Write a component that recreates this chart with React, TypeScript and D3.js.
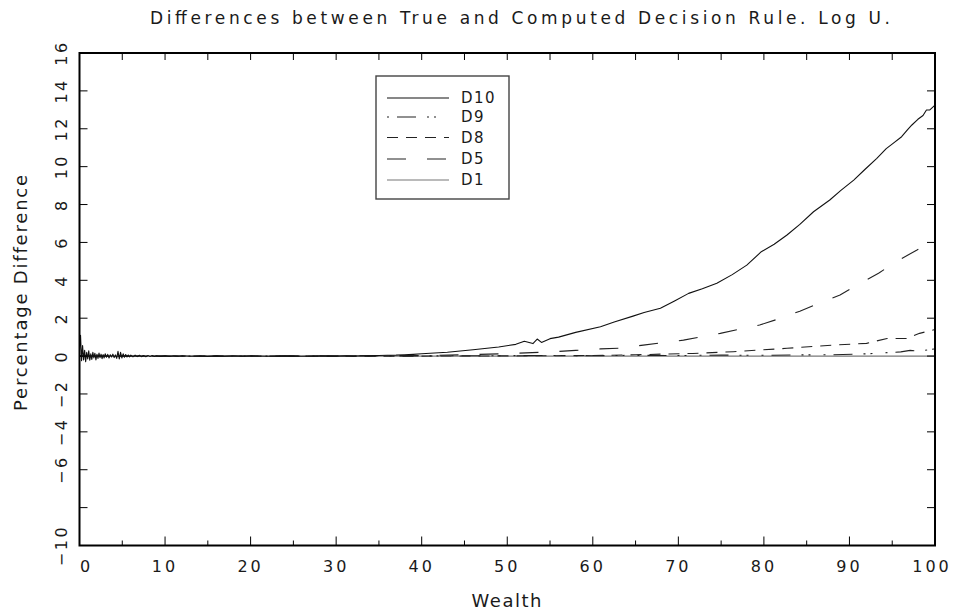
import React from "react";
import * as d3 from "d3";

// ---------- data ----------
const d10X = [0, 0.12, 0.24, 0.36, 0.48, 0.6, 0.72, 0.84, 0.96, 1.08, 1.2, 1.32, 1.44, 1.56, 1.68, 1.8, 1.92, 2.04, 2.16, 2.28, 2.4, 2.52, 2.64, 2.76, 2.88, 3.0, 3.15, 3.3, 3.45, 3.6, 3.75, 3.9, 4.05, 4.2, 4.35, 4.5, 4.65, 4.8, 4.95, 5.1, 5.25, 5.4, 5.55, 5.7, 5.85, 6.0, 6.25, 6.5, 6.75, 7.0, 7.25, 7.5, 7.75, 8.0, 8.25, 8.5, 8.75, 9.0, 9.5, 10, 10.5, 11, 11.5, 12, 13, 14, 15, 16, 17, 18, 19, 20, 22, 24, 26, 28, 30, 31, 32, 33, 34, 35, 36, 37, 38, 39, 40, 43, 46, 49, 51, 52, 53, 53.5, 54, 55, 56, 58, 60.9, 62.5, 64.7, 66, 67.9, 69.5, 71.2, 72.8, 74.5, 76.3, 78.0, 79.7, 81.2, 82.7, 84.2, 85.8, 87.7, 89.0, 90.5, 91.8, 93.2, 94.3, 95.1, 96.1, 96.8, 97.3, 98.0, 98.6, 99.0, 99.4, 100];
const d10Y = [0.3, 1.1, -0.25, 0.55, -0.2, 0.3, -0.3, 0.2, -0.15, 0.28, -0.22, 0.12, -0.18, 0.2, -0.1, 0.15, -0.2, 0.1, -0.12, 0.16, -0.08, 0.1, -0.14, 0.08, -0.1, 0.12, -0.06, 0.09, -0.1, 0.07, -0.05, 0.1, -0.08, 0.06, -0.12, 0.25, -0.15, 0.2, -0.1, 0.12, -0.06, 0.08, -0.05, 0.06, -0.04, 0.05, -0.04, 0.05, -0.03, 0.04, -0.03, 0.03, -0.03, 0.03, -0.02, 0.03, -0.02, 0.02, -0.02, 0.02, -0.02, 0.02, -0.01, 0.02, -0.01, 0.01, -0.02, 0.01, -0.01, 0.02, -0.01, 0.01, -0.01, 0.01, -0.01, 0.01, -0.01, 0.02, 0.0, 0.02, 0.01, 0.03, 0.04, 0.05, 0.07, 0.09, 0.12, 0.2, 0.33, 0.48, 0.62, 0.78, 0.66, 0.9, 0.72, 0.92, 1.0, 1.25, 1.55, 1.8, 2.11, 2.3, 2.52, 2.9, 3.31, 3.55, 3.84, 4.3, 4.8, 5.51, 5.9, 6.39, 6.95, 7.62, 8.24, 8.75, 9.29, 9.85, 10.44, 10.95, 11.23, 11.58, 11.95, 12.2, 12.5, 12.7, 12.99, 13.0, 13.25];

const d9X = [0, 10, 20, 30, 40, 50, 55, 60, 65, 70, 75, 80, 84, 88, 92, 94.4, 96, 97.1, 98.2, 99.4, 100];
const d9Y = [0, 0, 0, 0, 0.01, 0.02, 0.03, 0.02, 0.04, 0.03, 0.05, 0.04, 0.06, 0.07, 0.12, 0.18, 0.22, 0.3, 0.25, 0.35, 0.38];

const d8X = [0, 20, 40, 50, 55, 60, 65, 71.7, 76.4, 82.7, 88.1, 92, 94.4, 96.7, 98.2, 100];
const d8Y = [0, 0, 0, 0.01, 0.02, 0.03, 0.07, 0.14, 0.23, 0.41, 0.58, 0.67, 0.93, 0.93, 1.2, 1.4];

const d5X = [0, 20, 30, 40, 45, 50, 55, 58, 60.9, 63.2, 65.9, 70.6, 74.9, 79.5, 81.9, 84.2, 86.6, 88.9, 90.9, 93.4, 95.5, 97.9, 100];
const d5Y = [0, 0, 0.01, 0.03, 0.07, 0.13, 0.22, 0.3, 0.38, 0.42, 0.58, 0.84, 1.2, 1.64, 1.99, 2.37, 2.81, 3.22, 3.75, 4.37, 5.0, 5.6, 6.25];

const d1X = [0, 25, 50, 75, 100];
const d1Y = [0, 0, 0, 0, 0];

const yTickValues = [-10, -8, -6, -4, -2, 0, 2, 4, 6, 8, 10, 12, 14, 16];
const yTickLabels = ["−10", "", "−6", "−4", "−2", "0", "2", "4", "6", "8", "10", "12", "14", "16"];
const xMajorTicks = [0, 10, 20, 30, 40, 50, 60, 70, 80, 90, 100];
const xMinorTicks = [5, 15, 25, 35, 45, 55, 65, 75, 85, 95];

const legendNames = ["D10", "D9", "D8", "D5", "D1"];

const titleText = "Differences between True and Computed Decision Rule. Log U.";
const xTitle = "Wealth";
const yTitle = "Percentage Difference";

// ---------- component ----------
export default function App() {
  const W = 959, H = 615;
  const left = 79.5, right = 935, top = 53, bottom = 545.5;
  const x = d3.scaleLinear().domain([0, 100]).range([left, right]);
  const y = d3.scaleLinear().domain([-10, 16]).range([bottom, top]);

  const font = "'DejaVu Sans', 'Liberation Sans', sans-serif";
  const ink = "#1a1a1a";

  const mk = (xs: number[], ys: number[]) =>
    d3.line<number>().x((_, i) => x(xs[i])).y((v) => y(v))(ys) || "";

  const series = [
    { name: "D10", path: mk(d10X, d10Y), dash: "", color: "#111", w: 1.1 },
    { name: "D9", path: mk(d9X, d9Y), dash: "2,8,19,11,2,5,2,13", color: "#222", w: 1.1 },
    { name: "D8", path: mk(d8X, d8Y), dash: "11,8", color: "#222", w: 1.1 },
    { name: "D5", path: mk(d5X, d5Y), dash: "19,21", color: "#222", w: 1.1 },
    { name: "D1", path: mk(d1X, d1Y), dash: "", color: "#777", w: 1.1 },
  ];

  const legX = 376, legY = 76, legW = 133, legH = 123;
  const legRowY = [98, 117, 137.5, 159, 180];

  return (
    <svg width={W} height={H} style={{ position: "absolute", left: 0, top: 0, background: "#fff" }}>
      <rect x={0} y={0} width={W} height={H} fill="#fff" />
      {/* title */}
      <text x={150} y={24} fontFamily={font} fontSize={17} fill={ink} textLength={740} lengthAdjust="spacing">
        {titleText}
      </text>

      {/* data */}
      <g fill="none" strokeLinejoin="round">
        {series.slice().reverse().map((s) => (
          <path key={s.name} d={s.path} stroke={s.color} strokeWidth={s.w} strokeDasharray={s.dash || undefined} />
        ))}
      </g>

      {/* frame */}
      <rect x={left} y={top} width={right - left} height={bottom - top} fill="none" stroke="#000" strokeWidth={2} />

      {/* y ticks left & right */}
      {yTickValues.map((v) => (
        <g key={"yt" + v}>
          <line x1={left} x2={left + 8} y1={y(v)} y2={y(v)} stroke="#000" strokeWidth={1} />
          <line x1={right} x2={right - 8} y1={y(v)} y2={y(v)} stroke="#000" strokeWidth={1} />
        </g>
      ))}
      {/* y tick labels */}
      {yTickValues.map((v, i) =>
        yTickLabels[i] ? (
          <text
            key={"yl" + v}
            transform={`translate(${67},${y(v)}) rotate(-90)`}
            textAnchor="middle"
            fontFamily={font}
            fontSize={16}
            letterSpacing={2.5}
            fill={ink}
          >
            {yTickLabels[i]}
          </text>
        ) : null
      )}

      {/* x ticks bottom */}
      {xMajorTicks.map((v) => (
        <line key={"xM" + v} x1={x(v)} x2={x(v)} y1={bottom} y2={bottom - 9} stroke="#000" strokeWidth={1} />
      ))}
      {xMinorTicks.map((v) => (
        <line key={"xm" + v} x1={x(v)} x2={x(v)} y1={bottom} y2={bottom - 5} stroke="#000" strokeWidth={1} />
      ))}
      {/* x ticks top */}
      {[...xMajorTicks, ...xMinorTicks].map((v) => (
        <line key={"xt" + v} x1={x(v)} x2={x(v)} y1={top} y2={top + 7} stroke="#000" strokeWidth={1} />
      ))}
      {/* x tick labels */}
      {xMajorTicks.map((v) => (
        <text
          key={"xl" + v}
          x={x(v) + (v === 0 ? 7 : v === 100 ? -3 : 0)}
          y={572}
          textAnchor="middle"
          fontFamily={font}
          fontSize={16}
          letterSpacing={3}
          fill={ink}
        >
          {String(v)}
        </text>
      ))}

      {/* axis titles */}
      <text x={(left + right) / 2} y={607} textAnchor="middle" fontFamily={font} fontSize={18} letterSpacing={1.5} fill={ink}>
        {xTitle}
      </text>
      <text
        transform={`translate(${27},${292}) rotate(-90)`}
        textAnchor="middle"
        fontFamily={font}
        fontSize={18}
        letterSpacing={1.8}
        fill={ink}
      >
        {yTitle}
      </text>

      {/* legend */}
      <rect x={legX} y={legY} width={legW} height={legH} fill="#fff" stroke="#444" strokeWidth={1.4} />
      {series.map((s, i) => (
        <g key={"lg" + s.name}>
          <line x1={387} x2={449} y1={legRowY[i]} y2={legRowY[i]} stroke={s.color} strokeWidth={1.2} strokeDasharray={s.dash || undefined} />
          <text x={461} y={legRowY[i] + 5} fontFamily={font} fontSize={15} letterSpacing={1.5} fill={ink}>
            {legendNames[i]}
          </text>
        </g>
      ))}
    </svg>
  );
}
